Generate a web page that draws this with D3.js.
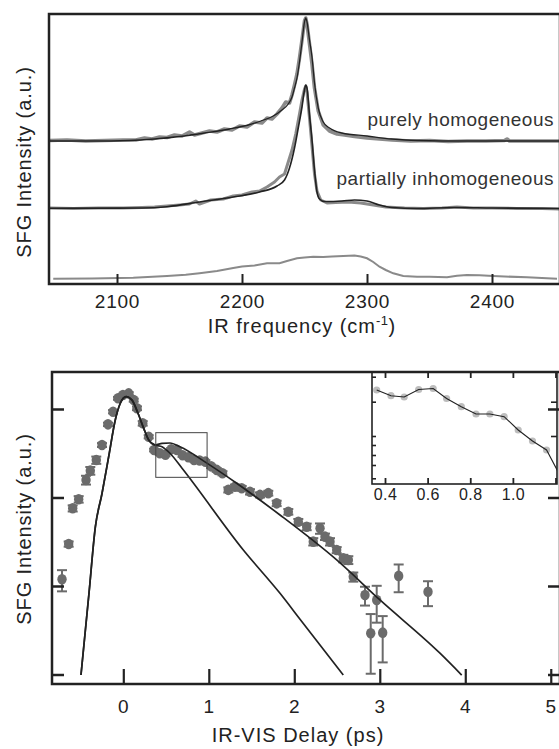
<!DOCTYPE html>
<html>
<head>
<meta charset="utf-8">
<script src="https://cdn.jsdelivr.net/npm/d3@7"></script>
<style>
  body { margin: 0; background: #fff; }
  svg { display: block; }
</style>
</head>
<body>
<div id="chart"></div>
<script>
// ---------- top panel: SFG spectra (offset traces, a.u.) ----------
const freqTicks = [2100, 2200, 2300, 2400];

const homDataFreq = [2046,2060,2075,2090,2105,2115,2122,2128,2134,2140,2146,2152,2158,2162,2168,2174,2180,2186,2192,2198,2204,2210,2216,2220,2224,2228,2232,2235,2238,2240,2242,2244,2246,2248,2250,2251,2252,2254,2256,2258,2261,2265,2270,2276,2282,2290,2300,2310,2320,2335,2350,2365,2380,2395,2410,2412,2414,2430,2454];
const homDataInt = [14.35,14.4,14.3,14.35,14.4,14.4,14.6,14.5,14.7,14.65,14.9,14.8,15.2,14.9,15.1,15.3,15.2,15.5,15.4,15.8,15.7,16.2,16.1,16.6,16.5,17.0,17.6,18.2,18.1,18.9,19.9,21.0,22.6,24.4,26.3,26.6,26.0,24.0,22.0,19.6,17.3,15.9,15.3,15.0,14.9,14.75,14.6,14.5,14.4,14.3,14.35,14.25,14.3,14.3,14.35,14.5,14.3,14.3,14.3];
const homFitFreq = [2046,2080,2110,2130,2150,2170,2190,2205,2215,2225,2232,2237,2240,2242,2244,2246,2248,2250,2251,2252,2254,2256,2258,2261,2265,2270,2280,2300,2320,2340,2380,2454];
const homFitInt = [14.3,14.3,14.35,14.5,14.75,15.1,15.5,15.9,16.3,16.8,17.4,18.0,18.7,19.6,20.6,22.2,24.2,26.2,26.6,26.2,24.4,22.7,20.1,17.6,16.2,15.6,15.1,14.8,14.5,14.35,14.3,14.3];

const inhomDataFreq = [2046,2065,2085,2105,2120,2130,2140,2150,2158,2163,2166,2175,2185,2193,2200,2208,2214,2220,2226,2230,2234,2237,2240,2243,2246,2248,2250,2251,2252,2254,2256,2258,2260,2263,2268,2275,2285,2295,2305,2315,2330,2345,2360,2372,2385,2400,2420,2440,2454];
const inhomDataInt = [7.6,7.55,7.6,7.6,7.65,7.7,7.8,7.9,8.0,8.3,8.0,8.4,8.5,8.8,8.9,9.2,9.3,9.7,10.2,10.7,11.0,12.2,13.4,15.0,17.0,18.4,19.5,19.8,19.2,16.6,13.8,11.0,9.3,8.4,8.1,8.15,8.2,8.1,7.9,7.7,7.6,7.55,7.6,7.7,7.6,7.6,7.55,7.55,7.5];
const inhomFitFreq = [2046,2120,2140,2166,2193,2214,2228,2234,2238,2242,2245,2248,2250,2251,2252,2254,2256,2258,2260,2262,2266,2280,2290,2300,2310,2320,2340,2370,2400,2454];
const inhomFitInt = [7.57,7.6,7.73,8.2,8.7,9.2,9.8,10.4,11.6,13.6,15.6,17.7,19.4,19.9,19.6,16.9,14.4,11.4,9.2,8.5,8.25,8.3,8.4,8.3,7.9,7.65,7.55,7.65,7.6,7.55];

const bareFreq = [2049,2080,2113,2140,2155,2166,2180,2193,2200,2210,2220,2230,2236,2244,2250,2257,2265,2272,2281,2290,2295,2300,2305,2310,2315,2321,2329,2340,2350,2364,2372,2380,2390,2401,2410,2428,2452];
const bareInt = [0.53,0.55,0.63,0.8,0.92,1.07,1.3,1.6,1.75,1.85,2.07,2.07,2.3,2.57,2.65,2.73,2.7,2.75,2.8,2.85,2.75,2.57,2.2,1.73,1.4,1.07,0.8,0.72,0.73,0.67,0.82,0.9,0.88,0.8,0.75,0.67,0.53];

// ---------- bottom panel: SFG intensity vs IR-VIS delay (log scale) ----------
const delayTicks = [0, 1, 2, 3, 4, 5];
const intTicks = [0.001, 0.01, 0.1, 1];

const delayT = [-0.717,-0.639,-0.592,-0.522,-0.436,-0.386,-0.316,-0.249,-0.179,-0.120,-0.062,-0.004,0.063,0.122,0.160,0.227,0.297,0.36,0.427,0.493,0.56,0.627,0.693,0.76,0.827,0.893,0.96,1.027,1.093,1.16,1.228,1.306,1.385,1.482,1.599,1.696,1.794,1.930,2.047,2.145,2.222,2.301,2.359,2.418,2.496,2.573,2.632,2.690,2.827,2.894,2.964,3.034,3.221,3.564];
const delayI = [0.0119,0.0298,0.0755,0.0955,0.158,0.201,0.265,0.392,0.671,0.932,1.32,1.44,1.50,1.26,1.02,0.689,0.486,0.344,0.316,0.305,0.350,0.345,0.300,0.285,0.266,0.262,0.254,0.225,0.205,0.188,0.122,0.132,0.127,0.116,0.107,0.112,0.0859,0.0690,0.0532,0.0467,0.0317,0.0449,0.0361,0.0317,0.0255,0.0205,0.0197,0.0127,0.00791,0.00292,0.00695,0.00297,0.0130,0.00862];
const delayErr = [0.0032,0.002,0.006,0.008,0.018,0.02,0.025,0.02,0.03,0.04,0.05,0.05,0.05,0.05,0.05,0.04,0.02,0.012,0.012,0.012,0.012,0.012,0.012,0.01,0.01,0.01,0.01,0.01,0.01,0.01,0.008,0.008,0.008,0.008,0.007,0.007,0.006,0.005,0.004,0.004,0.003,0.006,0.003,0.003,0.002,0.002,0.002,0.0015,0.0019,0.0019,0.0031,0.0016,0.0045,0.0027];

const fitLongT = [-0.495,-0.401,-0.327,-0.249,-0.171,-0.094,-0.035,0.032,0.102,0.172,0.239,0.297,0.374,0.453,0.546,0.663,0.982,1.326,1.833,2.496,3.002,3.704,3.958];
const fitLongI = [0.000986,0.00834,0.0465,0.111,0.289,0.751,1.16,1.38,1.26,0.894,0.605,0.447,0.392,0.409,0.413,0.375,0.243,0.145,0.0634,0.0197,0.00695,0.00174,0.000986];
const fitShortT = [-0.495,-0.401,-0.327,-0.249,-0.171,-0.094,-0.035,0.032,0.102,0.172,0.239,0.297,0.374,0.453,0.546,0.687,1.404,1.833,2.067,2.573];
const fitShortI = [0.000986,0.00834,0.0465,0.111,0.289,0.751,1.16,1.38,1.26,0.894,0.605,0.447,0.392,0.375,0.316,0.214,0.0255,0.00826,0.00421,0.000986];

// region shown enlarged in the inset
const zoomBoxT = [0.38, 0.98];
const zoomBoxI = [0.169, 0.54];

// inset (linear a.u.)
const insetTicksX = [0.4, 0.6, 0.8, 1.0, 1.2];
const insetTicksY = [1.073, 0.823, 0.48, 0.39, 0.29, 0.19, 0.057];
const insetRightTicks = [0.823, 0.48];
const insetT = [0.361,0.428,0.490,0.558,0.626,0.689,0.758,0.827,0.892,0.959,1.025,1.092,1.158,1.225];
const insetI = [0.94,0.883,0.87,0.945,0.955,0.855,0.773,0.70,0.70,0.673,0.54,0.43,0.34,0.07];

// ---------- drawing ----------
const W = 559, H = 749;
const FONT = "'Liberation Sans', Arial, Helvetica, sans-serif";
const INK = "#222";
const DATA_GRAY = "#8a8a8a";
const PT_GRAY = "#6b6b6b";
const zip = (a, b) => a.map((v, i) => [v, b[i]]);

const svg = d3.select("#chart").append("svg")
    .attr("width", W).attr("height", H)
    .attr("font-family", FONT);

const defs = svg.append("defs");

function styleAxis(g, fs, sw) {
    g.attr("font-family", FONT)
    g.select(".domain").remove()
    g.selectAll(".tick line").attr("stroke", INK).attr("stroke-width", sw)
    g.selectAll(".tick text").attr("font-size", fs).attr("fill", INK)
}

// ===== top panel =====
const tp = {left: 49, right: 560, top: 14, bottom: 284};
const xF = d3.scaleLinear().domain([2045.6, 2454.4]).range([tp.left, tp.right]);
const yF = d3.scaleLinear().domain([0, 27]).range([tp.bottom, tp.top]);

defs.append("clipPath").attr("id", "clipTop").append("rect")
    .attr("x", tp.left).attr("y", tp.top)
    .attr("width", tp.right - tp.left).attr("height", tp.bottom - tp.top);

const gTop = svg.append("g");
const plotTop = gTop.append("g").attr("clip-path", "url(#clipTop)");

const rawLine = d3.line().x(d => xF(d[0])).y(d => yF(d[1]));
const fitLine = d3.line().x(d => xF(d[0])).y(d => yF(d[1])).curve(d3.curveMonotoneX);

plotTop.append("path").datum(zip(bareFreq, bareInt))
    .attr("d", rawLine).attr("fill", "none").attr("stroke", DATA_GRAY).attr("stroke-width", 2);

plotTop.append("path").datum(zip(inhomDataFreq, inhomDataInt))
    .attr("d", rawLine).attr("fill", "none").attr("stroke", DATA_GRAY).attr("stroke-width", 3)
    .attr("stroke-linejoin", "round");
plotTop.append("path").datum(zip(inhomFitFreq, inhomFitInt))
    .attr("d", fitLine).attr("fill", "none").attr("stroke", INK).attr("stroke-width", 1.6);

plotTop.append("path").datum(zip(homDataFreq, homDataInt))
    .attr("d", rawLine).attr("fill", "none").attr("stroke", DATA_GRAY).attr("stroke-width", 3.6)
    .attr("stroke-linejoin", "round");
plotTop.append("path").datum(zip(homFitFreq, homFitInt))
    .attr("d", fitLine).attr("fill", "none").attr("stroke", INK).attr("stroke-width", 1.3);

gTop.append("rect")
    .attr("x", tp.left).attr("y", tp.top)
    .attr("width", tp.right - tp.left).attr("height", tp.bottom - tp.top)
    .attr("fill", "none").attr("stroke", INK).attr("stroke-width", 2.5);

gTop.append("g").attr("transform", `translate(0,${tp.bottom})`)
    .call(d3.axisBottom(xF).tickValues(freqTicks).tickSize(-10).tickPadding(10.5).tickSizeOuter(0)
        .tickFormat(d3.format("d")))
    .call(g => styleAxis(g, 19, 2))
    .call(g => g.selectAll(".tick text").attr("letter-spacing", 0.8));

gTop.append("text").attr("x", 554).attr("y", 126).attr("text-anchor", "end")
    .attr("font-size", 19).attr("letter-spacing", 0.5).attr("fill", "#333")
    .text("purely homogeneous");
gTop.append("text").attr("x", 554).attr("y", 185).attr("text-anchor", "end")
    .attr("font-size", 19).attr("letter-spacing", 0.5).attr("fill", "#333")
    .text("partially inhomogeneous");

const xTitleTop = gTop.append("text").attr("x", 302).attr("y", 333).attr("text-anchor", "middle")
    .attr("font-size", 20).attr("letter-spacing", 1).attr("fill", INK);
xTitleTop.append("tspan").text("IR frequency (cm");
xTitleTop.append("tspan").attr("dy", -8).attr("font-size", 13).attr("letter-spacing", 0.5).text("-1");
xTitleTop.append("tspan").attr("dy", 8).text(")");

gTop.append("text").attr("transform", "translate(31,162) rotate(-90)")
    .attr("text-anchor", "middle").attr("font-size", 20).attr("letter-spacing", 0.9).attr("fill", INK)
    .text("SFG Intensity (a.u.)");

// ===== bottom panel =====
const bp = {left: 52, right: 560, top: 372, bottom: 684};
const xT = d3.scaleLinear().domain([-0.834, 5.108]).range([bp.left, bp.right]);
const yI = d3.scaleLog().domain([7.81e-4, 2.618]).range([bp.bottom, bp.top]);

defs.append("clipPath").attr("id", "clipBot").append("rect")
    .attr("x", bp.left).attr("y", bp.top)
    .attr("width", bp.right - bp.left).attr("height", bp.bottom - bp.top);

const gBot = svg.append("g");
const plotBot = gBot.append("g").attr("clip-path", "url(#clipBot)");

const pts = delayT.map((t, i) => ({t: t, v: delayI[i], e: delayErr[i]}));
const lo = d => Math.max(d.v - d.e, yI.domain()[0]);
const hi = d => d.v + d.e;

const bars = plotBot.append("g").attr("stroke", PT_GRAY).attr("stroke-width", 2);
bars.selectAll(".eb").data(pts).join("line").attr("class", "eb")
    .attr("x1", d => xT(d.t)).attr("x2", d => xT(d.t))
    .attr("y1", d => yI(lo(d))).attr("y2", d => yI(hi(d)));
bars.selectAll(".capT").data(pts).join("line").attr("class", "capT")
    .attr("x1", d => xT(d.t) - 5).attr("x2", d => xT(d.t) + 5)
    .attr("y1", d => yI(hi(d))).attr("y2", d => yI(hi(d)));
bars.selectAll(".capB").data(pts).join("line").attr("class", "capB")
    .attr("x1", d => xT(d.t) - 5).attr("x2", d => xT(d.t) + 5)
    .attr("y1", d => yI(lo(d))).attr("y2", d => yI(lo(d)));

plotBot.append("g").selectAll("ellipse").data(pts).join("ellipse")
    .attr("cx", d => xT(d.t)).attr("cy", d => yI(d.v))
    .attr("rx", 4.7).attr("ry", 5.3).attr("fill", PT_GRAY);

const decayLine = d3.line().x(d => xT(d[0])).y(d => yI(d[1])).curve(d3.curveMonotoneX);
plotBot.append("path").datum(zip(fitShortT, fitShortI))
    .attr("d", decayLine).attr("fill", "none").attr("stroke", INK).attr("stroke-width", 1.7);
plotBot.append("path").datum(zip(fitLongT, fitLongI))
    .attr("d", decayLine).attr("fill", "none").attr("stroke", INK).attr("stroke-width", 1.7);

plotBot.append("rect")
    .attr("x", xT(zoomBoxT[0])).attr("y", yI(zoomBoxI[1]))
    .attr("width", xT(zoomBoxT[1]) - xT(zoomBoxT[0]))
    .attr("height", yI(zoomBoxI[0]) - yI(zoomBoxI[1]))
    .attr("fill", "none").attr("stroke", "#444").attr("stroke-width", 1);

// inset
const ins = {left: 372, right: 557, top: 372, bottom: 484};
const xIn = d3.scaleLinear().domain([0.339, 1.207]).range([ins.left, ins.right]);
const yIn = d3.scaleLinear().domain([0, 1.12]).range([ins.bottom, ins.top]);

defs.append("clipPath").attr("id", "clipIns").append("rect")
    .attr("x", ins.left).attr("y", ins.top)
    .attr("width", ins.right - ins.left).attr("height", ins.bottom - ins.top);

const gIns = gBot.append("g");
gIns.append("rect").attr("x", ins.left).attr("y", ins.top)
    .attr("width", ins.right - ins.left).attr("height", ins.bottom - ins.top)
    .attr("fill", "#fff");
const plotIns = gIns.append("g").attr("clip-path", "url(#clipIns)");
plotIns.selectAll("circle").data(zip(insetT, insetI)).join("circle")
    .attr("cx", d => xIn(d[0])).attr("cy", d => yIn(d[1]))
    .attr("r", 3.6).attr("fill", "#bdbdbd");
plotIns.append("path").datum(zip(insetT, insetI))
    .attr("d", d3.line().x(d => xIn(d[0])).y(d => yIn(d[1])))
    .attr("fill", "none").attr("stroke", INK).attr("stroke-width", 1.1);

gIns.append("rect").attr("x", ins.left).attr("y", ins.top)
    .attr("width", ins.right - ins.left).attr("height", ins.bottom - ins.top)
    .attr("fill", "none").attr("stroke", INK).attr("stroke-width", 1.6);

gIns.append("g").attr("transform", `translate(0,${ins.bottom})`)
    .call(d3.axisBottom(xIn).tickValues(insetTicksX).tickSize(-6).tickPadding(4.6).tickSizeOuter(0)
        .tickFormat(d => d < 1.1 ? d3.format(".1f")(d) : ""))
    .call(g => styleAxis(g, 16, 1.8))
    .call(g => g.selectAll(".tick text").attr("letter-spacing", 0.4));
gIns.append("g").attr("transform", `translate(0,${ins.top})`)
    .call(d3.axisTop(xIn).tickValues(insetTicksX).tickSize(-6).tickSizeOuter(0).tickFormat(""))
    .call(g => styleAxis(g, 16, 1.8));
gIns.append("g").attr("transform", `translate(${ins.left},0)`)
    .call(d3.axisLeft(yIn).tickValues(insetTicksY).tickSize(-4).tickSizeOuter(0).tickFormat(""))
    .call(g => styleAxis(g, 16, 1.6));
gIns.append("g").attr("transform", `translate(${ins.right},0)`)
    .call(d3.axisRight(yIn).tickValues(insetRightTicks).tickSize(-6).tickSizeOuter(0).tickFormat(""))
    .call(g => styleAxis(g, 16, 1.6));

// main frame and axes
gBot.append("rect")
    .attr("x", bp.left).attr("y", bp.top)
    .attr("width", bp.right - bp.left).attr("height", bp.bottom - bp.top)
    .attr("fill", "none").attr("stroke", INK).attr("stroke-width", 2.5);

gBot.append("g").attr("transform", `translate(0,${bp.bottom})`)
    .call(d3.axisBottom(xT).tickValues(delayTicks).tickSize(-15).tickPadding(15.5).tickSizeOuter(0)
        .tickFormat(d3.format("d")))
    .call(g => styleAxis(g, 19, 2.2))
    .call(g => g.selectAll(".tick text").attr("letter-spacing", 0.8));
gBot.append("g").attr("transform", `translate(${bp.left},0)`)
    .call(d3.axisLeft(yI).tickValues(intTicks).tickSize(-12).tickSizeOuter(0).tickFormat(""))
    .call(g => styleAxis(g, 19, 2.5));
gBot.append("g").attr("transform", `translate(${bp.right},0)`)
    .call(d3.axisRight(yI).tickValues(intTicks).tickSize(-12).tickSizeOuter(0).tickFormat(""))
    .call(g => styleAxis(g, 19, 2.5));

gBot.append("text").attr("x", 298).attr("y", 742).attr("text-anchor", "middle")
    .attr("font-size", 20).attr("letter-spacing", 1).attr("fill", INK)
    .text("IR-VIS Delay (ps)");

gBot.append("text").attr("transform", "translate(31,529) rotate(-90)")
    .attr("text-anchor", "middle").attr("font-size", 20).attr("letter-spacing", 0.9).attr("fill", INK)
    .text("SFG Intensity (a.u.)");
</script>
</body>
</html>
